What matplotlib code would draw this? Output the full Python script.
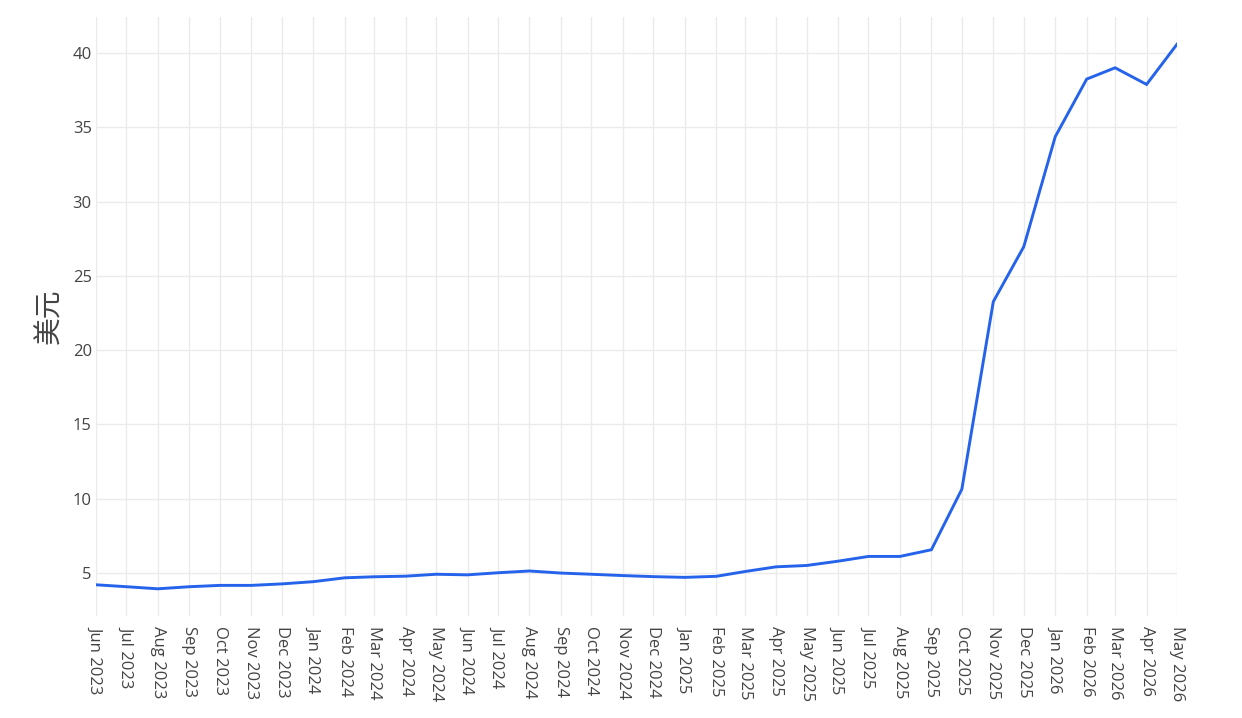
import pandas as pd
import matplotlib
matplotlib.use('Agg')
import matplotlib.pyplot as plt

plt.rcParams['font.family'] = ['Open Sans', 'Noto Sans CJK SC', 'DejaVu Sans']

# monthly values (USD)
months = pd.date_range('2023-06-01', '2026-05-01', freq='MS')
values = [4.19, 4.06, 3.92, 4.06, 4.15, 4.15, 4.25, 4.40, 4.66, 4.73, 4.77, 4.90,
          4.86, 5.00, 5.12, 4.98, 4.90, 4.81, 4.74, 4.69, 4.76, 5.08, 5.40, 5.49,
          5.78, 6.10, 6.10, 6.55, 10.63, 23.26, 26.96, 34.37, 38.25, 39.01, 37.89, 40.60]
tick_labels = [d.strftime('%b %Y') for d in months]
y_ticks = [5, 10, 15, 20, 25, 30, 35, 40]

fig = plt.figure(figsize=(12.42, 7.18), dpi=100)
ax = fig.add_axes([0.0773, 0.1421, 0.8704, 0.8342])

ax.plot(months, values, color='#2563eb', linewidth=2.1, solid_joinstyle='miter', zorder=3)

ax.set_xlim(months[0], months[-1])
ax.set_ylim(2.09, 42.43)
ax.set_xticks(months)
ax.set_xticklabels(tick_labels, rotation=-90, ha='center', va='top', fontsize=12, color='#444444')
ax.set_yticks(y_ticks)
ax.set_yticklabels([str(v) for v in y_ticks], fontsize=12, color='#444444')
ax.tick_params(axis='x', length=0, pad=7)
ax.tick_params(axis='y', length=0, pad=3)

ax.grid(True, color='#ebebeb', linewidth=1)
ax.set_axisbelow(True)
for s in ax.spines.values():
    s.set_visible(False)

ax.set_ylabel('美元', fontsize=20, color='#444444', labelpad=6)

fig.savefig('out.png', dpi=100)
